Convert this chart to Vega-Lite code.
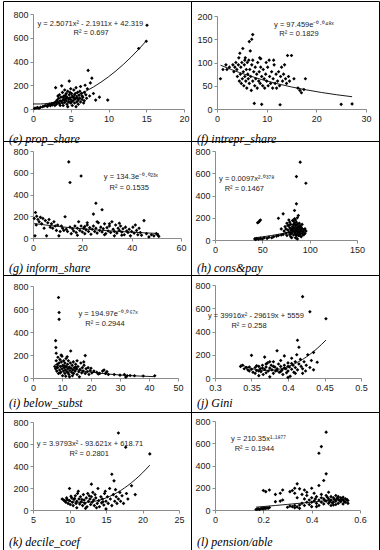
{
"$schema": "https://vega.github.io/schema/vega-lite/v6.json",
"padding": {"left": 2, "top": 0, "right": 0, "bottom": 0},
"background": "white",
"config": {
  "view": {"stroke": "#000", "strokeWidth": 1},
  "axis": {"grid": false, "title": null, "domainColor": "#8c8c8c", "tickColor": "#8c8c8c", "tickSize": 3, "labelFont": "Liberation Sans", "labelFontSize": 9, "labelColor": "#222", "labelPadding": 2, "labelOverlap": false, "labelFlush": false, "labelBound": false},
  "title": {"orient": "bottom", "anchor": "start", "frame": "group", "font": "Liberation Serif", "fontStyle": "italic", "fontSize": 12, "fontWeight": "normal", "color": "#000", "dx": 6},
  "point": {"shape": "diamond", "filled": true, "color": "#000", "size": 13, "opacity": 1},
  "line": {"color": "#000", "strokeWidth": 0.9},
  "rule": {"color": "#b5b5b5", "strokeWidth": 1},
  "text": {"font": "Liberation Sans", "fontSize": 7.5, "color": "#222"}
},
"datasets": {
"e": [{"x":0.2,"y":5},{"x":0.4,"y":8},{"x":0.6,"y":12},{"x":0.8,"y":6},{"x":1.0,"y":15},{"x":1.3,"y":20},{"x":1.5,"y":25},{"x":1.7,"y":30},{"x":1.9,"y":22},{"x":2.0,"y":35},{"x":2.2,"y":40},{"x":2.3,"y":28},{"x":2.5,"y":45},{"x":2.6,"y":35},{"x":2.8,"y":50},{"x":2.9,"y":30},{"x":3.0,"y":60},{"x":3.0,"y":180},{"x":3.1,"y":40},{"x":3.2,"y":75},{"x":3.3,"y":55},{"x":3.4,"y":90},{"x":3.5,"y":45},{"x":3.5,"y":120},{"x":3.6,"y":70},{"x":3.7,"y":100},{"x":3.8,"y":195},{"x":3.8,"y":60},{"x":3.9,"y":140},{"x":4.0,"y":80},{"x":4.0,"y":30},{"x":4.1,"y":110},{"x":4.2,"y":160},{"x":4.2,"y":55},{"x":4.3,"y":90},{"x":4.4,"y":130},{"x":4.4,"y":70},{"x":4.5,"y":40},{"x":4.5,"y":100},{"x":4.6,"y":150},{"x":4.7,"y":85},{"x":4.7,"y":60},{"x":4.8,"y":235},{"x":4.8,"y":120},{"x":4.9,"y":95},{"x":5.0,"y":170},{"x":5.0,"y":50},{"x":5.0,"y":80},{"x":5.1,"y":130},{"x":5.2,"y":110},{"x":5.2,"y":30},{"x":5.3,"y":70},{"x":5.4,"y":160},{"x":5.4,"y":95},{"x":5.5,"y":50},{"x":5.5,"y":120},{"x":5.6,"y":85},{"x":5.7,"y":180},{"x":5.8,"y":100},{"x":5.8,"y":60},{"x":5.9,"y":140},{"x":6.0,"y":75},{"x":6.0,"y":40},{"x":6.1,"y":115},{"x":6.2,"y":90},{"x":6.3,"y":190},{"x":6.3,"y":60},{"x":6.4,"y":130},{"x":6.5,"y":80},{"x":6.6,"y":100},{"x":6.7,"y":50},{"x":6.8,"y":70},{"x":7.0,"y":120},{"x":7.3,"y":325},{"x":7.5,"y":110},{"x":7.6,"y":220},{"x":7.8,"y":260},{"x":8.0,"y":130},{"x":8.3,"y":75},{"x":8.8,"y":100},{"x":9.9,"y":75},{"x":14,"y":510},{"x":15,"y":570},{"x":15.1,"y":705},{"x":3.3,"y":110},{"x":3.6,"y":30},{"x":3.9,"y":50},{"x":4.1,"y":75},{"x":4.3,"y":115},{"x":4.6,"y":20},{"x":4.9,"y":140},{"x":5.1,"y":60},{"x":5.3,"y":100},{"x":5.6,"y":130},{"x":5.9,"y":90},{"x":6.2,"y":150},{"x":6.5,"y":110},{"x":6.8,"y":140},{"x":7.1,"y":90},{"x":7.2,"y":170},{"x":6.9,"y":200},{"x":5.7,"y":20},{"x":4.0,"y":100},{"x":4.8,"y":60},{"x":5.5,"y":85}],
"ef": [{"x":0,"y":42.3},{"x":1,"y":42.6},{"x":2,"y":48.0},{"x":3,"y":58.3},{"x":4,"y":73.6},{"x":5,"y":94.0},{"x":6,"y":119.4},{"x":7,"y":149.8},{"x":8,"y":185.2},{"x":9,"y":225.7},{"x":10,"y":271.1},{"x":11,"y":321.6},{"x":12,"y":377.0},{"x":13,"y":437.5},{"x":14,"y":503.1},{"x":15,"y":573.5}],
"f": [{"x":0.7,"y":65},{"x":1.2,"y":85},{"x":1.8,"y":95},{"x":2.0,"y":85},{"x":2.5,"y":90},{"x":3.2,"y":95},{"x":3.4,"y":80},{"x":3.6,"y":90},{"x":3.8,"y":100},{"x":4.0,"y":85},{"x":4.1,"y":70},{"x":4.3,"y":95},{"x":4.4,"y":110},{"x":4.5,"y":60},{"x":4.6,"y":120},{"x":4.7,"y":75},{"x":4.8,"y":90},{"x":4.9,"y":55},{"x":5.0,"y":100},{"x":5.1,"y":65},{"x":5.2,"y":130},{"x":5.3,"y":80},{"x":5.4,"y":50},{"x":5.5,"y":95},{"x":5.6,"y":70},{"x":5.7,"y":110},{"x":5.8,"y":60},{"x":5.9,"y":85},{"x":6.0,"y":45},{"x":6.1,"y":100},{"x":6.2,"y":75},{"x":6.3,"y":65},{"x":6.4,"y":105},{"x":6.5,"y":145},{"x":6.5,"y":55},{"x":6.6,"y":85},{"x":6.8,"y":70},{"x":6.9,"y":40},{"x":7.0,"y":150},{"x":7.0,"y":95},{"x":7.2,"y":160},{"x":7.2,"y":60},{"x":7.4,"y":80},{"x":7.5,"y":12},{"x":7.6,"y":50},{"x":7.7,"y":90},{"x":7.8,"y":65},{"x":8.0,"y":75},{"x":8.1,"y":45},{"x":8.2,"y":100},{"x":8.4,"y":60},{"x":8.5,"y":80},{"x":8.7,"y":55},{"x":8.8,"y":90},{"x":9.0,"y":10},{"x":9.0,"y":70},{"x":9.2,"y":50},{"x":9.3,"y":85},{"x":9.5,"y":65},{"x":9.6,"y":45},{"x":9.8,"y":75},{"x":10.0,"y":60},{"x":10.2,"y":90},{"x":10.3,"y":50},{"x":10.5,"y":105},{"x":10.6,"y":70},{"x":10.8,"y":55},{"x":11.0,"y":80},{"x":11.2,"y":45},{"x":11.3,"y":65},{"x":11.5,"y":95},{"x":11.7,"y":55},{"x":11.9,"y":75},{"x":12.0,"y":45},{"x":12.2,"y":60},{"x":12.4,"y":80},{"x":12.6,"y":50},{"x":12.7,"y":9},{"x":12.8,"y":70},{"x":13.0,"y":90},{"x":13.2,"y":60},{"x":13.4,"y":75},{"x":13.6,"y":95},{"x":13.8,"y":65},{"x":14.0,"y":55},{"x":14.2,"y":115},{"x":14.4,"y":70},{"x":14.6,"y":60},{"x":15.0,"y":115},{"x":15.5,"y":65},{"x":16.3,"y":45},{"x":16.7,"y":40},{"x":17.0,"y":35},{"x":17.8,"y":65},{"x":17.5,"y":42},{"x":25.0,"y":10},{"x":27.2,"y":11},{"x":8.6,"y":110},{"x":9.9,"y":100},{"x":6.7,"y":125},{"x":5.6,"y":105},{"x":11.4,"y":105},{"x":7.2,"y":105},{"x":8.8,"y":108}],
"ff": [{"x":0.7,"y":94.2},{"x":3,"y":84.4},{"x":6,"y":73.1},{"x":9,"y":63.3},{"x":12,"y":54.8},{"x":15,"y":47.4},{"x":18,"y":41.1},{"x":21,"y":35.6},{"x":24,"y":30.8},{"x":27.2,"y":26.4}],
"g": [{"x":0.5,"y":180},{"x":0.8,"y":20},{"x":1.0,"y":235},{"x":1.3,"y":120},{"x":1.5,"y":200},{"x":2.0,"y":170},{"x":2.5,"y":150},{"x":3.0,"y":190},{"x":3.5,"y":130},{"x":4.0,"y":180},{"x":4.5,"y":90},{"x":5.0,"y":160},{"x":5.5,"y":20},{"x":6.0,"y":140},{"x":6.5,"y":170},{"x":7.0,"y":100},{"x":7.5,"y":130},{"x":8.0,"y":90},{"x":8.5,"y":150},{"x":9.0,"y":110},{"x":9.5,"y":70},{"x":10,"y":120},{"x":10.5,"y":20},{"x":11,"y":60},{"x":11.5,"y":110},{"x":12,"y":90},{"x":12.5,"y":70},{"x":13,"y":195},{"x":13.5,"y":80},{"x":14,"y":60},{"x":14.5,"y":700},{"x":15,"y":510},{"x":15,"y":100},{"x":15.5,"y":40},{"x":16,"y":85},{"x":16.5,"y":65},{"x":17,"y":110},{"x":17.5,"y":50},{"x":18,"y":90},{"x":18.5,"y":150},{"x":19,"y":70},{"x":19.5,"y":570},{"x":19.5,"y":110},{"x":20,"y":55},{"x":20.5,"y":90},{"x":21,"y":40},{"x":21.5,"y":75},{"x":22,"y":120},{"x":22.5,"y":60},{"x":23,"y":95},{"x":23.5,"y":35},{"x":24,"y":80},{"x":24.5,"y":220},{"x":24.5,"y":110},{"x":25,"y":60},{"x":25.5,"y":320},{"x":25.5,"y":90},{"x":26,"y":45},{"x":26.5,"y":140},{"x":27,"y":70},{"x":27.5,"y":100},{"x":28,"y":260},{"x":28,"y":55},{"x":28.5,"y":85},{"x":29,"y":130},{"x":29.5,"y":40},{"x":30,"y":95},{"x":30.5,"y":65},{"x":31,"y":110},{"x":31.5,"y":50},{"x":32,"y":150},{"x":32.5,"y":80},{"x":33,"y":60},{"x":33.5,"y":120},{"x":34,"y":45},{"x":34.5,"y":90},{"x":35,"y":70},{"x":35.5,"y":110},{"x":36,"y":55},{"x":36.5,"y":85},{"x":37,"y":30},{"x":37.5,"y":100},{"x":38,"y":65},{"x":38.5,"y":50},{"x":39,"y":80},{"x":39.5,"y":20},{"x":40,"y":60},{"x":40.5,"y":100},{"x":41,"y":45},{"x":41.5,"y":120},{"x":42,"y":70},{"x":42.5,"y":30},{"x":43,"y":90},{"x":43.5,"y":50},{"x":44,"y":25},{"x":45,"y":160},{"x":46,"y":40},{"x":47,"y":10},{"x":48,"y":30},{"x":49,"y":20},{"x":50,"y":40},{"x":51,"y":15},{"x":50.5,"y":30},{"x":22,"y":140},{"x":26,"y":150},{"x":31,"y":130},{"x":35,"y":135},{"x":29,"y":30},{"x":33,"y":20},{"x":18,"y":25},{"x":21,"y":105},{"x":36,"y":25}],
"gf": [{"x":0.5,"y":132.8},{"x":5,"y":119.7},{"x":10,"y":106.7},{"x":15,"y":95.1},{"x":20,"y":84.8},{"x":25,"y":75.6},{"x":30,"y":67.4},{"x":35,"y":60.1},{"x":40,"y":53.5},{"x":45,"y":47.7},{"x":51,"y":41.6}],
"h": [{"x":42,"y":10},{"x":43,"y":5},{"x":44,"y":12},{"x":46,"y":8},{"x":48,"y":15},{"x":50,"y":10},{"x":52,"y":20},{"x":55,"y":15},{"x":57,"y":25},{"x":60,"y":20},{"x":62,"y":30},{"x":65,"y":35},{"x":67,"y":40},{"x":70,"y":45},{"x":72,"y":50},{"x":46,"y":160},{"x":47,"y":170},{"x":48,"y":180},{"x":45,"y":155},{"x":70,"y":100},{"x":72,"y":235},{"x":73,"y":80},{"x":74,"y":120},{"x":75,"y":60},{"x":76,"y":150},{"x":76,"y":40},{"x":77,"y":90},{"x":77,"y":130},{"x":78,"y":70},{"x":78,"y":180},{"x":79,"y":110},{"x":79,"y":50},{"x":80,"y":90},{"x":80,"y":140},{"x":80,"y":30},{"x":81,"y":100},{"x":81,"y":60},{"x":82,"y":120},{"x":82,"y":175},{"x":82,"y":80},{"x":83,"y":45},{"x":83,"y":140},{"x":83,"y":100},{"x":84,"y":265},{"x":84,"y":70},{"x":84,"y":110},{"x":84,"y":190},{"x":85,"y":55},{"x":85,"y":90},{"x":85,"y":130},{"x":85,"y":20},{"x":86,"y":325},{"x":86,"y":570},{"x":86,"y":80},{"x":86,"y":110},{"x":86,"y":160},{"x":87,"y":60},{"x":87,"y":100},{"x":87,"y":140},{"x":87,"y":10},{"x":88,"y":90},{"x":88,"y":120},{"x":88,"y":40},{"x":88,"y":220},{"x":89,"y":70},{"x":89,"y":110},{"x":89,"y":150},{"x":90,"y":700},{"x":90,"y":55},{"x":90,"y":95},{"x":90,"y":130},{"x":91,"y":80},{"x":91,"y":30},{"x":91,"y":115},{"x":92,"y":60},{"x":92,"y":100},{"x":93,"y":75},{"x":93,"y":45},{"x":94,"y":90},{"x":95,"y":60},{"x":95,"y":100},{"x":96,"y":510},{"x":96,"y":80},{"x":67,"y":195},{"x":75,"y":100},{"x":79,"y":160},{"x":81,"y":20},{"x":83,"y":170},{"x":85,"y":180},{"x":87,"y":200},{"x":89,"y":40},{"x":92,"y":140},{"x":94,"y":50},{"x":78,"y":130},{"x":80,"y":65},{"x":86,"y":40},{"x":84,"y":150},{"x":82,"y":95},{"x":88,"y":75}],
"hf": [{"x":42,"y":19.7},{"x":50,"y":28.1},{"x":60,"y":40.8},{"x":70,"y":55.9},{"x":80,"y":73.2},{"x":90,"y":93.2},{"x":96,"y":106.3}],
"i": [{"x":7.8,"y":325},{"x":7.9,"y":265},{"x":8.0,"y":215},{"x":8.8,"y":700},{"x":9.0,"y":570},{"x":9.0,"y":510},{"x":7.5,"y":100},{"x":7.8,"y":80},{"x":8.0,"y":150},{"x":8.2,"y":60},{"x":8.4,"y":120},{"x":8.5,"y":90},{"x":8.6,"y":180},{"x":8.8,"y":40},{"x":9.0,"y":130},{"x":9.2,"y":70},{"x":9.3,"y":160},{"x":9.5,"y":100},{"x":9.6,"y":50},{"x":9.8,"y":140},{"x":10.0,"y":80},{"x":10.0,"y":190},{"x":10.2,"y":20},{"x":10.3,"y":110},{"x":10.5,"y":60},{"x":10.6,"y":150},{"x":10.8,"y":90},{"x":11.0,"y":130},{"x":11.0,"y":40},{"x":11.2,"y":70},{"x":11.4,"y":170},{"x":11.5,"y":100},{"x":11.7,"y":55},{"x":11.9,"y":120},{"x":12.0,"y":80},{"x":12.2,"y":150},{"x":12.4,"y":30},{"x":12.5,"y":95},{"x":12.7,"y":65},{"x":12.9,"y":130},{"x":13.0,"y":235},{"x":13.1,"y":85},{"x":13.3,"y":50},{"x":13.5,"y":110},{"x":13.7,"y":70},{"x":13.9,"y":140},{"x":14.0,"y":40},{"x":14.2,"y":90},{"x":14.5,"y":60},{"x":14.7,"y":120},{"x":15.0,"y":80},{"x":15.2,"y":30},{"x":15.5,"y":100},{"x":15.8,"y":55},{"x":16.0,"y":10},{"x":16.2,"y":75},{"x":16.5,"y":130},{"x":16.8,"y":45},{"x":17.0,"y":90},{"x":17.3,"y":60},{"x":17.6,"y":110},{"x":18.0,"y":195},{"x":18.0,"y":40},{"x":18.3,"y":80},{"x":18.7,"y":55},{"x":19.0,"y":90},{"x":19.3,"y":30},{"x":19.7,"y":65},{"x":20.0,"y":85},{"x":20.3,"y":45},{"x":21,"y":60},{"x":22,"y":50},{"x":22.5,"y":35},{"x":23,"y":40},{"x":24,"y":60},{"x":24.5,"y":70},{"x":25,"y":40},{"x":25.5,"y":55},{"x":26,"y":30},{"x":28,"y":30},{"x":30,"y":25},{"x":31.5,"y":30},{"x":32,"y":8},{"x":32.5,"y":20},{"x":33.5,"y":22},{"x":35,"y":20},{"x":38,"y":18},{"x":42,"y":20},{"x":8.3,"y":95},{"x":9.4,"y":45},{"x":10.9,"y":105},{"x":12.1,"y":45},{"x":14.8,"y":95},{"x":9.7,"y":200},{"x":11.8,"y":185},{"x":15.2,"y":150},{"x":17.5,"y":140},{"x":13.6,"y":20},{"x":11.3,"y":15},{"x":12.6,"y":10}],
"if": [{"x":7.5,"y":118.0},{"x":10,"y":99.8},{"x":12.5,"y":84.4},{"x":15,"y":71.4},{"x":17.5,"y":60.4},{"x":20,"y":51.0},{"x":25,"y":36.5},{"x":30,"y":26.1},{"x":35,"y":18.7},{"x":42,"y":11.7}],
"j": [{"x":0.335,"y":100},{"x":0.338,"y":110},{"x":0.34,"y":80},{"x":0.343,"y":90},{"x":0.345,"y":70},{"x":0.347,"y":60},{"x":0.35,"y":195},{"x":0.35,"y":75},{"x":0.352,"y":50},{"x":0.355,"y":90},{"x":0.355,"y":40},{"x":0.357,"y":65},{"x":0.36,"y":100},{"x":0.36,"y":20},{"x":0.362,"y":80},{"x":0.363,"y":55},{"x":0.365,"y":110},{"x":0.366,"y":30},{"x":0.368,"y":180},{"x":0.368,"y":75},{"x":0.37,"y":95},{"x":0.37,"y":45},{"x":0.372,"y":130},{"x":0.373,"y":60},{"x":0.375,"y":85},{"x":0.375,"y":10},{"x":0.377,"y":110},{"x":0.378,"y":70},{"x":0.38,"y":140},{"x":0.38,"y":40},{"x":0.382,"y":95},{"x":0.383,"y":60},{"x":0.385,"y":235},{"x":0.385,"y":80},{"x":0.387,"y":120},{"x":0.388,"y":50},{"x":0.39,"y":100},{"x":0.39,"y":150},{"x":0.392,"y":70},{"x":0.393,"y":30},{"x":0.395,"y":190},{"x":0.395,"y":110},{"x":0.397,"y":80},{"x":0.398,"y":45},{"x":0.4,"y":130},{"x":0.4,"y":60},{"x":0.402,"y":95},{"x":0.403,"y":15},{"x":0.405,"y":170},{"x":0.405,"y":75},{"x":0.407,"y":110},{"x":0.408,"y":50},{"x":0.41,"y":140},{"x":0.41,"y":90},{"x":0.412,"y":200},{"x":0.413,"y":325},{"x":0.413,"y":70},{"x":0.415,"y":265},{"x":0.415,"y":120},{"x":0.417,"y":160},{"x":0.418,"y":100},{"x":0.42,"y":700},{"x":0.42,"y":80},{"x":0.422,"y":140},{"x":0.424,"y":60},{"x":0.425,"y":110},{"x":0.427,"y":200},{"x":0.43,"y":570},{"x":0.43,"y":90},{"x":0.432,"y":150},{"x":0.435,"y":220},{"x":0.435,"y":70},{"x":0.44,"y":135},{"x":0.452,"y":510},{"x":0.36,"y":60},{"x":0.37,"y":120},{"x":0.38,"y":100},{"x":0.39,"y":55},{"x":0.4,"y":100},{"x":0.41,"y":40},{"x":0.365,"y":85},{"x":0.375,"y":140},{"x":0.385,"y":65},{"x":0.395,"y":85},{"x":0.405,"y":125},{"x":0.357,"y":105},{"x":0.347,"y":95},{"x":0.42,"y":40},{"x":0.4,"y":5}],
"jf": [{"x":0.335,"y":116.2},{"x":0.35,"y":82.0},{"x":0.36,"y":69.3},{"x":0.37,"y":64.5},{"x":0.38,"y":67.7},{"x":0.39,"y":78.8},{"x":0.40,"y":98.0},{"x":0.41,"y":125.1},{"x":0.42,"y":160.2},{"x":0.43,"y":203.3},{"x":0.44,"y":254.3},{"x":0.452,"y":326.2}],
"k": [{"x":9,"y":100},{"x":9.2,"y":90},{"x":9.4,"y":80},{"x":9.5,"y":70},{"x":9.7,"y":95},{"x":9.8,"y":60},{"x":10,"y":195},{"x":10,"y":85},{"x":10.1,"y":50},{"x":10.3,"y":110},{"x":10.4,"y":70},{"x":10.5,"y":40},{"x":10.6,"y":95},{"x":10.8,"y":130},{"x":10.9,"y":60},{"x":11,"y":80},{"x":11,"y":20},{"x":11.2,"y":170},{"x":11.3,"y":100},{"x":11.4,"y":55},{"x":11.5,"y":120},{"x":11.6,"y":75},{"x":11.8,"y":40},{"x":11.9,"y":140},{"x":12,"y":90},{"x":12.1,"y":60},{"x":12.3,"y":110},{"x":12.4,"y":30},{"x":12.5,"y":150},{"x":12.6,"y":80},{"x":12.8,"y":100},{"x":12.9,"y":50},{"x":13,"y":235},{"x":13,"y":120},{"x":13.1,"y":70},{"x":13.3,"y":90},{"x":13.4,"y":40},{"x":13.5,"y":140},{"x":13.6,"y":110},{"x":13.8,"y":60},{"x":13.9,"y":195},{"x":14,"y":85},{"x":14.1,"y":30},{"x":14.3,"y":120},{"x":14.4,"y":65},{"x":14.5,"y":100},{"x":14.7,"y":45},{"x":14.8,"y":150},{"x":15,"y":80},{"x":15,"y":10},{"x":15.2,"y":120},{"x":15.3,"y":60},{"x":15.5,"y":195},{"x":15.6,"y":100},{"x":15.8,"y":325},{"x":15.8,"y":40},{"x":16,"y":140},{"x":16.1,"y":265},{"x":16.2,"y":80},{"x":16.4,"y":120},{"x":16.5,"y":60},{"x":16.7,"y":700},{"x":16.7,"y":100},{"x":16.9,"y":160},{"x":17,"y":80},{"x":17.2,"y":130},{"x":17.4,"y":60},{"x":17.7,"y":570},{"x":17.8,"y":150},{"x":18,"y":100},{"x":18.5,"y":220},{"x":19,"y":140},{"x":21,"y":510},{"x":9.6,"y":110},{"x":10.2,"y":125},{"x":11.7,"y":95},{"x":12.7,"y":130},{"x":13.7,"y":20},{"x":14.9,"y":170},{"x":12.2,"y":15},{"x":11.1,"y":150},{"x":10.7,"y":105},{"x":13.2,"y":160},{"x":14.6,"y":75},{"x":16.3,"y":185}],
"kf": [{"x":9,"y":98.4},{"x":10,"y":80.4},{"x":11,"y":70.4},{"x":12,"y":68.2},{"x":13,"y":74.1},{"x":14,"y":88.0},{"x":15,"y":109.7},{"x":16,"y":139.5},{"x":17,"y":177.1},{"x":18,"y":222.8},{"x":19,"y":276.4},{"x":20,"y":338.0},{"x":21,"y":407.6}],
"l": [{"x":0.17,"y":5},{"x":0.175,"y":8},{"x":0.18,"y":10},{"x":0.185,"y":6},{"x":0.19,"y":12},{"x":0.195,"y":15},{"x":0.2,"y":10},{"x":0.205,"y":18},{"x":0.21,"y":14},{"x":0.215,"y":20},{"x":0.22,"y":16},{"x":0.225,"y":22},{"x":0.2,"y":175},{"x":0.21,"y":165},{"x":0.225,"y":180},{"x":0.25,"y":140},{"x":0.27,"y":150},{"x":0.28,"y":180},{"x":0.25,"y":75},{"x":0.27,"y":80},{"x":0.28,"y":90},{"x":0.31,"y":165},{"x":0.32,"y":175},{"x":0.33,"y":195},{"x":0.34,"y":235},{"x":0.35,"y":190},{"x":0.37,"y":180},{"x":0.4,"y":195},{"x":0.33,"y":150},{"x":0.34,"y":110},{"x":0.3,"y":25},{"x":0.31,"y":35},{"x":0.32,"y":30},{"x":0.33,"y":40},{"x":0.34,"y":28},{"x":0.35,"y":45},{"x":0.33,"y":20},{"x":0.35,"y":15},{"x":0.36,"y":60},{"x":0.37,"y":100},{"x":0.37,"y":40},{"x":0.38,"y":130},{"x":0.38,"y":70},{"x":0.39,"y":90},{"x":0.39,"y":50},{"x":0.4,"y":110},{"x":0.4,"y":30},{"x":0.41,"y":150},{"x":0.41,"y":80},{"x":0.42,"y":60},{"x":0.42,"y":120},{"x":0.43,"y":510},{"x":0.43,"y":220},{"x":0.43,"y":90},{"x":0.43,"y":40},{"x":0.44,"y":570},{"x":0.44,"y":140},{"x":0.44,"y":70},{"x":0.45,"y":265},{"x":0.45,"y":100},{"x":0.45,"y":55},{"x":0.46,"y":700},{"x":0.46,"y":325},{"x":0.46,"y":130},{"x":0.46,"y":80},{"x":0.47,"y":160},{"x":0.47,"y":60},{"x":0.47,"y":100},{"x":0.48,"y":90},{"x":0.48,"y":40},{"x":0.48,"y":120},{"x":0.49,"y":70},{"x":0.49,"y":110},{"x":0.5,"y":80},{"x":0.5,"y":50},{"x":0.5,"y":130},{"x":0.51,"y":95},{"x":0.51,"y":60},{"x":0.52,"y":110},{"x":0.52,"y":75},{"x":0.53,"y":90},{"x":0.53,"y":55},{"x":0.54,"y":100},{"x":0.54,"y":70},{"x":0.55,"y":85},{"x":0.55,"y":60},{"x":0.36,"y":140},{"x":0.38,"y":160},{"x":0.42,"y":30},{"x":0.44,"y":110},{"x":0.49,"y":45},{"x":0.51,"y":120},{"x":0.53,"y":115},{"x":0.4,"y":70},{"x":0.415,"y":100},{"x":0.455,"y":85},{"x":0.465,"y":115},{"x":0.475,"y":75},{"x":0.485,"y":65},{"x":0.495,"y":95},{"x":0.505,"y":105},{"x":0.515,"y":85},{"x":0.525,"y":95},{"x":0.535,"y":75},{"x":0.545,"y":90}],
"lf": [{"x":0.17,"y":25.7},{"x":0.25,"y":40.5},{"x":0.3,"y":50.3},{"x":0.35,"y":60.5},{"x":0.4,"y":70.9},{"x":0.45,"y":81.5},{"x":0.5,"y":92.3},{"x":0.55,"y":103.4}],
"g800": [{"y":0},{"y":200},{"y":400},{"y":600},{"y":800}],
"g200": [{"y":0},{"y":50},{"y":100},{"y":150},{"y":200}]
},
"concat": [
{
 "width": 188, "height": 140,
 "title": {"text": "(e) prop_share", "offset": -7},
 "encoding": {
  "x": {"field": "x", "type": "quantitative", "scale": {"domain": [0, 20], "range": [30, 181], "nice": false}, "axis": {"values": [0,5,10,15,20], "tickCount": 5, "offset": -32}},
  "y": {"field": "y", "type": "quantitative", "scale": {"domain": [0, 800], "range": [108, 13], "nice": false}, "axis": {"values": [0,200,400,600,800], "tickCount": 5, "offset": -30}}
 },
 "layer": [
  {"data": {"name": "g800"}, "mark": "rule", "encoding": {"x": {"datum": 0, "type": "quantitative", "axis": {"values": [0,5,10,15,20], "tickCount": 5, "offset": -32}}, "x2": {"datum": 20}}},
  {"data": {"name": "e"}, "mark": "point"},
  {"data": {"name": "ef"}, "mark": {"type": "line", "interpolate": "monotone"}},
  {"data": {"values": [{"t": "y = 2.5071x² - 2.1911x + 42.319", "x": 7.6, "y": 716}, {"t": "R² = 0.697", "x": 7.7, "y": 640}]}, "mark": "text", "encoding": {"text": {"field": "t"}}}
 ]
},
{
 "width": 188, "height": 140,
 "title": {"text": "(f) intrepr_share", "offset": -7},
 "encoding": {
  "x": {"field": "x", "type": "quantitative", "scale": {"domain": [0, 30], "range": [26, 175], "nice": false}, "axis": {"values": [0,10,20,30], "tickCount": 4, "offset": -32}},
  "y": {"field": "y", "type": "quantitative", "scale": {"domain": [0, 200], "range": [108, 15], "nice": false}, "axis": {"values": [0,50,100,150,200], "tickCount": 5, "offset": -26}}
 },
 "layer": [
  {"data": {"name": "g200"}, "mark": "rule", "encoding": {"x": {"datum": 0, "type": "quantitative", "axis": {"values": [0,10,20,30], "tickCount": 4, "offset": -32}}, "x2": {"datum": 30}}},
  {"data": {"name": "f"}, "mark": "point"},
  {"data": {"name": "ff"}, "mark": {"type": "line", "interpolate": "monotone"}},
  {"data": {"values": [{"t": "y = 97.459e⁻⁰·⁰⁴⁸ˣ", "x": 17.5, "y": 181}, {"t": "R² = 0.1829", "x": 16.5, "y": 161}]}, "mark": "text", "encoding": {"text": {"field": "t"}}}
 ]
},
{
 "width": 188, "height": 134,
 "title": {"text": "(g) inform_share", "offset": -12},
 "encoding": {
  "x": {"field": "x", "type": "quantitative", "scale": {"domain": [0, 60], "range": [30, 178], "nice": false}, "axis": {"values": [0,20,40,60], "tickCount": 4, "offset": -37}},
  "y": {"field": "y", "type": "quantitative", "scale": {"domain": [0, 800], "range": [97, 10], "nice": false}, "axis": {"values": [0,200,400,600,800], "tickCount": 5, "offset": -30}}
 },
 "layer": [
  {"data": {"name": "g800"}, "mark": "rule", "encoding": {"x": {"datum": 0, "type": "quantitative", "axis": {"values": [0,20,40,60], "tickCount": 4, "offset": -37}}, "x2": {"datum": 60}}},
  {"data": {"name": "g"}, "mark": "point"},
  {"data": {"name": "gf"}, "mark": {"type": "line", "interpolate": "monotone"}},
  {"data": {"values": [{"t": "y = 134.3e⁻⁰·⁰²³ˣ", "x": 39.7, "y": 561}, {"t": "R² = 0.1535", "x": 39, "y": 460}]}, "mark": "text", "encoding": {"text": {"field": "t"}}}
 ]
},
{
 "width": 188, "height": 134,
 "title": {"text": "(h) cons&pay", "offset": -12},
 "encoding": {
  "x": {"field": "x", "type": "quantitative", "scale": {"domain": [0, 150], "range": [24, 166], "nice": false}, "axis": {"values": [0,50,100,150], "tickCount": 4, "offset": -35}},
  "y": {"field": "y", "type": "quantitative", "scale": {"domain": [0, 800], "range": [99, 10], "nice": false}, "axis": {"values": [0,200,400,600,800], "tickCount": 5, "offset": -24}}
 },
 "layer": [
  {"data": {"name": "g800"}, "mark": "rule", "encoding": {"x": {"datum": 0, "type": "quantitative", "axis": {"values": [0,50,100,150], "tickCount": 4, "offset": -35}}, "x2": {"datum": 150}}},
  {"data": {"name": "h"}, "mark": "point"},
  {"data": {"name": "hf"}, "mark": {"type": "line", "interpolate": "monotone"}},
  {"data": {"values": [{"t": "y = 0.0097x²·⁰³⁷⁸", "x": 33.5, "y": 548}, {"t": "R² = 0.1467", "x": 31, "y": 458}]}, "mark": "text", "encoding": {"text": {"field": "t"}}}
 ]
},
{
 "width": 188, "height": 137,
 "title": {"text": "(i) below_subst", "offset": -14},
 "encoding": {
  "x": {"field": "x", "type": "quantitative", "scale": {"domain": [0, 50], "range": [30, 175], "nice": false}, "axis": {"values": [0,10,20,30,40,50], "tickCount": 6, "offset": -34}},
  "y": {"field": "y", "type": "quantitative", "scale": {"domain": [0, 800], "range": [103, 11], "nice": false}, "axis": {"values": [0,200,400,600,800], "tickCount": 5, "offset": -30}}
 },
 "layer": [
  {"data": {"name": "g800"}, "mark": "rule", "encoding": {"x": {"datum": 0, "type": "quantitative", "axis": {"values": [0,10,20,30,40,50], "tickCount": 6, "offset": -34}}, "x2": {"datum": 50}}},
  {"data": {"name": "i"}, "mark": "point"},
  {"data": {"name": "if"}, "mark": {"type": "line", "interpolate": "monotone"}},
  {"data": {"values": [{"t": "y = 194.97e⁻⁰·⁰⁶⁷ˣ", "x": 25.9, "y": 557}, {"t": "R² = 0.2944", "x": 24.8, "y": 470}]}, "mark": "text", "encoding": {"text": {"field": "t"}}}
 ]
},
{
 "width": 188, "height": 137,
 "title": {"text": "(j) Gini", "offset": -14},
 "encoding": {
  "x": {"field": "x", "type": "quantitative", "scale": {"domain": [0.3, 0.5], "range": [24, 170], "nice": false, "zero": false}, "axis": {"values": [0.3,0.35,0.4,0.45,0.5], "tickCount": 5, "format": "~g", "offset": -34}},
  "y": {"field": "y", "type": "quantitative", "scale": {"domain": [0, 800], "range": [103, 10], "nice": false}, "axis": {"values": [0,200,400,600,800], "tickCount": 5, "offset": -24}}
 },
 "layer": [
  {"data": {"name": "g800"}, "mark": "rule", "encoding": {"x": {"datum": 0.3, "type": "quantitative", "axis": {"values": [0.3,0.35,0.4,0.45,0.5], "tickCount": 5, "format": "~g", "offset": -34}}, "x2": {"datum": 0.5}}},
  {"data": {"name": "j"}, "mark": "point"},
  {"data": {"name": "jf"}, "mark": {"type": "line", "interpolate": "monotone"}},
  {"data": {"values": [{"t": "y = 39916x² - 29619x + 5559", "x": 0.356, "y": 533}, {"t": "R² = 0.258", "x": 0.3466, "y": 447}]}, "mark": "text", "encoding": {"text": {"field": "t"}}}
 ]
},
{
 "width": 188, "height": 139,
 "title": {"text": "(k) decile_coef", "offset": -14},
 "encoding": {
  "x": {"field": "x", "type": "quantitative", "scale": {"domain": [5, 25], "range": [30, 176], "nice": false, "zero": false}, "axis": {"values": [5,10,15,20,25], "tickCount": 5, "offset": -41}},
  "y": {"field": "y", "type": "quantitative", "scale": {"domain": [0, 800], "range": [98, 10], "nice": false}, "axis": {"values": [0,200,400,600,800], "tickCount": 5, "offset": -30}}
 },
 "layer": [
  {"data": {"name": "g800"}, "mark": "rule", "encoding": {"x": {"datum": 5, "type": "quantitative", "axis": {"values": [5,10,15,20,25], "tickCount": 5, "offset": -41}}, "x2": {"datum": 25}}},
  {"data": {"name": "k"}, "mark": "point"},
  {"data": {"name": "kf"}, "mark": {"type": "line", "interpolate": "monotone"}},
  {"data": {"values": [{"t": "y = 3.9793x² - 93.621x + 618.71", "x": 12.8, "y": 600}, {"t": "R² = 0.2801", "x": 12.7, "y": 509}]}, "mark": "text", "encoding": {"text": {"field": "t"}}}
 ]
},
{
 "width": 188, "height": 139,
 "title": {"text": "(l) pension/able", "offset": -14},
 "encoding": {
  "x": {"field": "x", "type": "quantitative", "scale": {"domain": [0, 0.6], "range": [24, 169], "nice": false}, "axis": {"values": [0,0.2,0.4,0.6], "tickCount": 4, "format": "~g", "offset": -41}},
  "y": {"field": "y", "type": "quantitative", "scale": {"domain": [0, 800], "range": [98, 9], "nice": false}, "axis": {"values": [0,200,400,600,800], "tickCount": 5, "offset": -24}}
 },
 "layer": [
  {"data": {"name": "g800"}, "mark": "rule", "encoding": {"x": {"datum": 0, "type": "quantitative", "axis": {"values": [0,0.2,0.4,0.6], "tickCount": 4, "format": "~g", "offset": -41}}, "x2": {"datum": 0.6}}},
  {"data": {"name": "l"}, "mark": "point"},
  {"data": {"name": "lf"}, "mark": {"type": "line", "interpolate": "monotone"}},
  {"data": {"values": [{"t": "y = 210.35x¹·¹⁸⁷⁷", "x": 0.18, "y": 638}, {"t": "R² = 0.1944", "x": 0.163, "y": 548}]}, "mark": "text", "encoding": {"text": {"field": "t"}}}
 ]
}
],
"columns": 2,
"spacing": 0,
"bounds": "flush"
}
